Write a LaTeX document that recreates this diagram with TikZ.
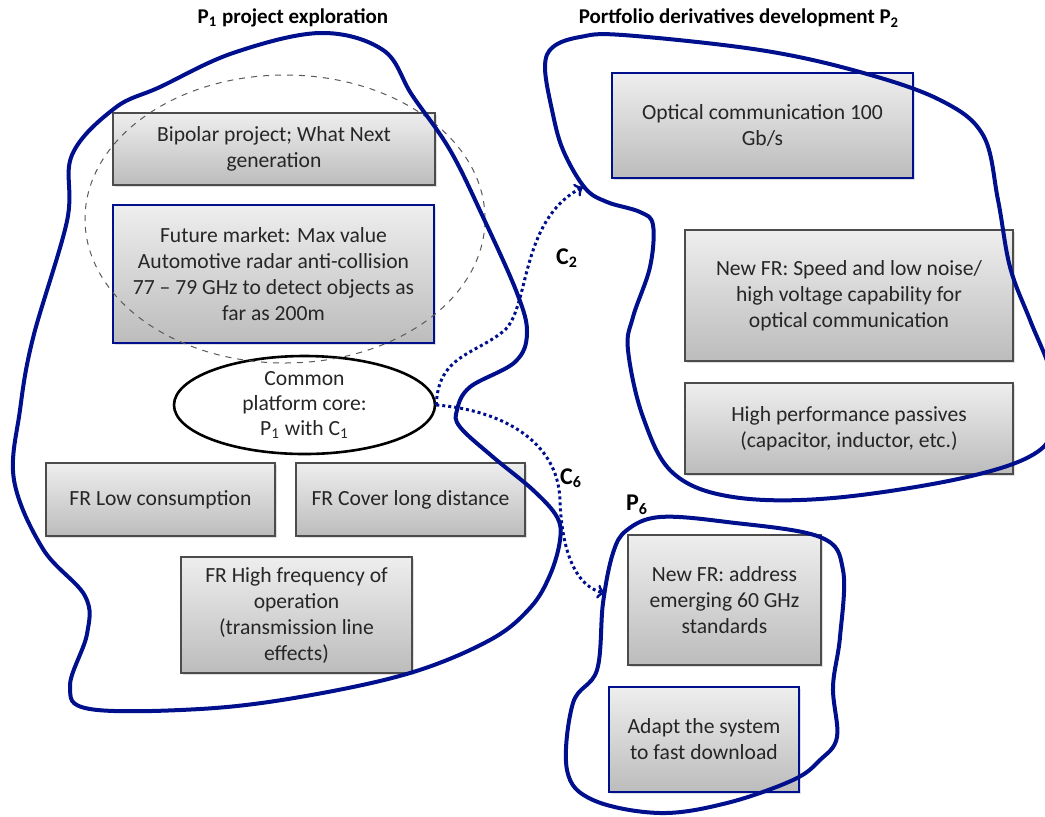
\documentclass[tikz,border=0pt]{standalone}
\usepackage{fontspec}
\setmainfont{Carlito}
\usetikzlibrary{shapes.geometric,shadows}
\definecolor{blobblue}{RGB}{0,16,140}
\definecolor{boxtop}{RGB}{238,238,238}
\definecolor{boxbot}{RGB}{188,188,188}
\tikzset{
  frbox/.style={draw=black!70, line width=0.6pt, top color=boxtop, bottom color=boxbot,
    drop shadow={opacity=0.25, shadow xshift=1.2pt, shadow yshift=-1.2pt},
    align=center, text=black!85, inner sep=1pt, font=\fontsize{10.8}{13}\selectfont},
  bluebox/.style={frbox, draw=blobblue, line width=1pt},
  blob/.style={draw=blobblue, line width=2pt},
  link/.style={->, blobblue, line width=1.5pt, dash pattern=on 1.5pt off 1.5pt},
  lab/.style={text=black, font=\fontsize{12}{14}\selectfont\bfseries},
  title/.style={text=black, font=\fontsize{10.5}{13}\selectfont\bfseries}
}

\begin{document}
\begin{tikzpicture}[x=50pt, y=50pt]
 \useasboundingbox (0,0) rectangle (10.45,-8.16);

 \node (p1lab) at (2.93,-0.18) [title] {P\textsubscript{1} project exploration};
 \node (p2lab) at (7.39,-0.18) [title] {Portfolio derivatives development P\textsubscript{2}};

 \node (bipolar) at (2.74,-1.49) [frbox, minimum width=161pt, minimum height=36pt] {Bipolar project; What Next\\generation};
 \node (market) at (2.735,-2.74) [bluebox, minimum width=160.5pt, minimum height=69pt] {Future market: Max value\\Automotive radar anti-collision\\77 – 79 GHz to detect objects as\\far as 200m};
 \node (core) at (3.045,-4.05) [ellipse, draw=black, line width=1.3pt, fill=white, inner sep=0pt, minimum width=130.5pt, minimum height=49pt, align=center, text=black!85, font=\fontsize{10.8}{12.5}\selectfont] {Common\\platform core:\\P\textsubscript{1} with C\textsubscript{1}};
 \node (lowcons) at (1.605,-4.995) [frbox, minimum width=114.5pt, minimum height=36.5pt] {FR Low consumption};
 \node (longdist) at (4.105,-4.995) [frbox, minimum width=114.5pt, minimum height=36.5pt] {FR Cover long distance};
 \node (highfreq) at (2.965,-6.15) [frbox, minimum width=115.5pt, minimum height=58pt] {FR High frequency of\\operation\\(transmission line\\effects)};

 \node (optical) at (7.625,-1.255) [bluebox, minimum width=150.5pt, minimum height=52.5pt] {Optical communication 100\\Gb/s};
 \node (speed) at (8.49,-2.955) [frbox, minimum width=164pt, minimum height=65.5pt] {New FR: Speed and low noise/\\high voltage capability for\\optical communication};
 \node (passives) at (8.49,-4.285) [frbox, minimum width=164pt, minimum height=45.5pt] {High performance passives\\(capacitor, inductor, etc.)};

 \node (sixty) at (7.245,-6.0) [frbox, minimum width=96.5pt, minimum height=65pt] {New FR: address\\emerging 60 GHz\\standards};
 \node (adapt) at (7.04,-7.395) [bluebox, minimum width=95pt, minimum height=52.5pt] {Adapt the system\\to fast download};

 \draw [dashed, black!65, line width=0.5pt] (2.85,-2.19) ellipse [x radius=2, y radius=1.44];

 \draw [blob] plot [smooth cycle, tension=0.6] coordinates {
   (3.2,-0.33) (3.83,-0.5) (4.12,-0.95) (4.5,-1.5) (4.83,-2.17) (5.17,-2.93) (5.27,-3.33)
   (5.15,-3.62) (4.7,-3.87) (4.57,-4.1) (4.6,-4.27) (4.93,-4.57) (5.33,-4.9) (5.57,-5.17)
   (5.6,-5.4) (5.5,-5.75) (5.3,-6.08) (4.9,-6.4) (4.1,-6.73) (3.0,-6.97) (2.0,-7.09)
   (0.9,-7.09) (0.7,-6.86) (0.87,-6.34) (0.85,-5.96) (0.43,-5.49) (0.14,-4.8) (0.2,-4.1)
   (0.33,-3.38) (0.67,-2.21) (0.72,-1.55) (1.15,-1.08) (1.6,-0.87) (2.33,-0.53)};
 \draw [blob] plot [smooth cycle, tension=0.6] coordinates {
   (6.23,-0.35) (7.6,-0.5) (8.6,-0.72) (9.4,-1.0) (9.83,-1.35) (9.98,-2.0) (10.1,-2.67)
   (10.3,-3.2) (10.5,-3.7) (10.55,-4.1) (10.4,-4.5) (9.67,-4.77) (8.33,-4.98) (7.33,-4.97)
   (6.73,-4.73) (6.43,-4.17) (6.28,-3.5) (6.33,-3.17) (6.5,-2.67) (6.53,-2.25) (6.4,-2.12)
   (6.07,-2.02) (5.85,-1.88) (5.63,-1.5) (5.52,-1.1) (5.45,-0.67) (5.53,-0.47) (5.8,-0.37)};
 \draw [blob] plot [smooth cycle, tension=0.6] coordinates {
   (6.27,-5.3) (6.6,-5.17) (7.27,-5.22) (8.2,-5.37) (8.43,-5.7) (8.4,-6.37) (8.33,-6.87)
   (8.37,-7.37) (8.2,-7.6) (7.93,-7.8) (7.27,-8.03) (6.6,-8.13) (5.93,-8.0) (5.67,-7.7)
   (5.73,-7.03) (5.97,-6.7) (6.03,-6.03) (6.13,-5.53)};

 \coordinate (c2tip) at (5.83,-1.87);
 \coordinate (c6tip) at (6.05,-5.93);
 \draw [link] (core.east) .. controls (4.38,-3.55) and (4.75,-3.55) .. (5.05,-3.3)
   .. controls (5.3,-3.05) and (5.2,-2.2) .. (c2tip);
 \draw [link] (core.east) .. controls (5.0,-4.1) and (5.58,-4.4) .. (5.6,-5.0)
   .. controls (5.62,-5.6) and (5.8,-5.88) .. (c6tip);

 \node (c2lab) at (5.67,-2.58) [lab] {C\textsubscript{2}};
 \node (c6lab) at (5.71,-4.78) [lab] {C\textsubscript{6}};
 \node (p6lab) at (6.37,-5.05) [lab] {P\textsubscript{6}};
\end{tikzpicture}
\end{document}
